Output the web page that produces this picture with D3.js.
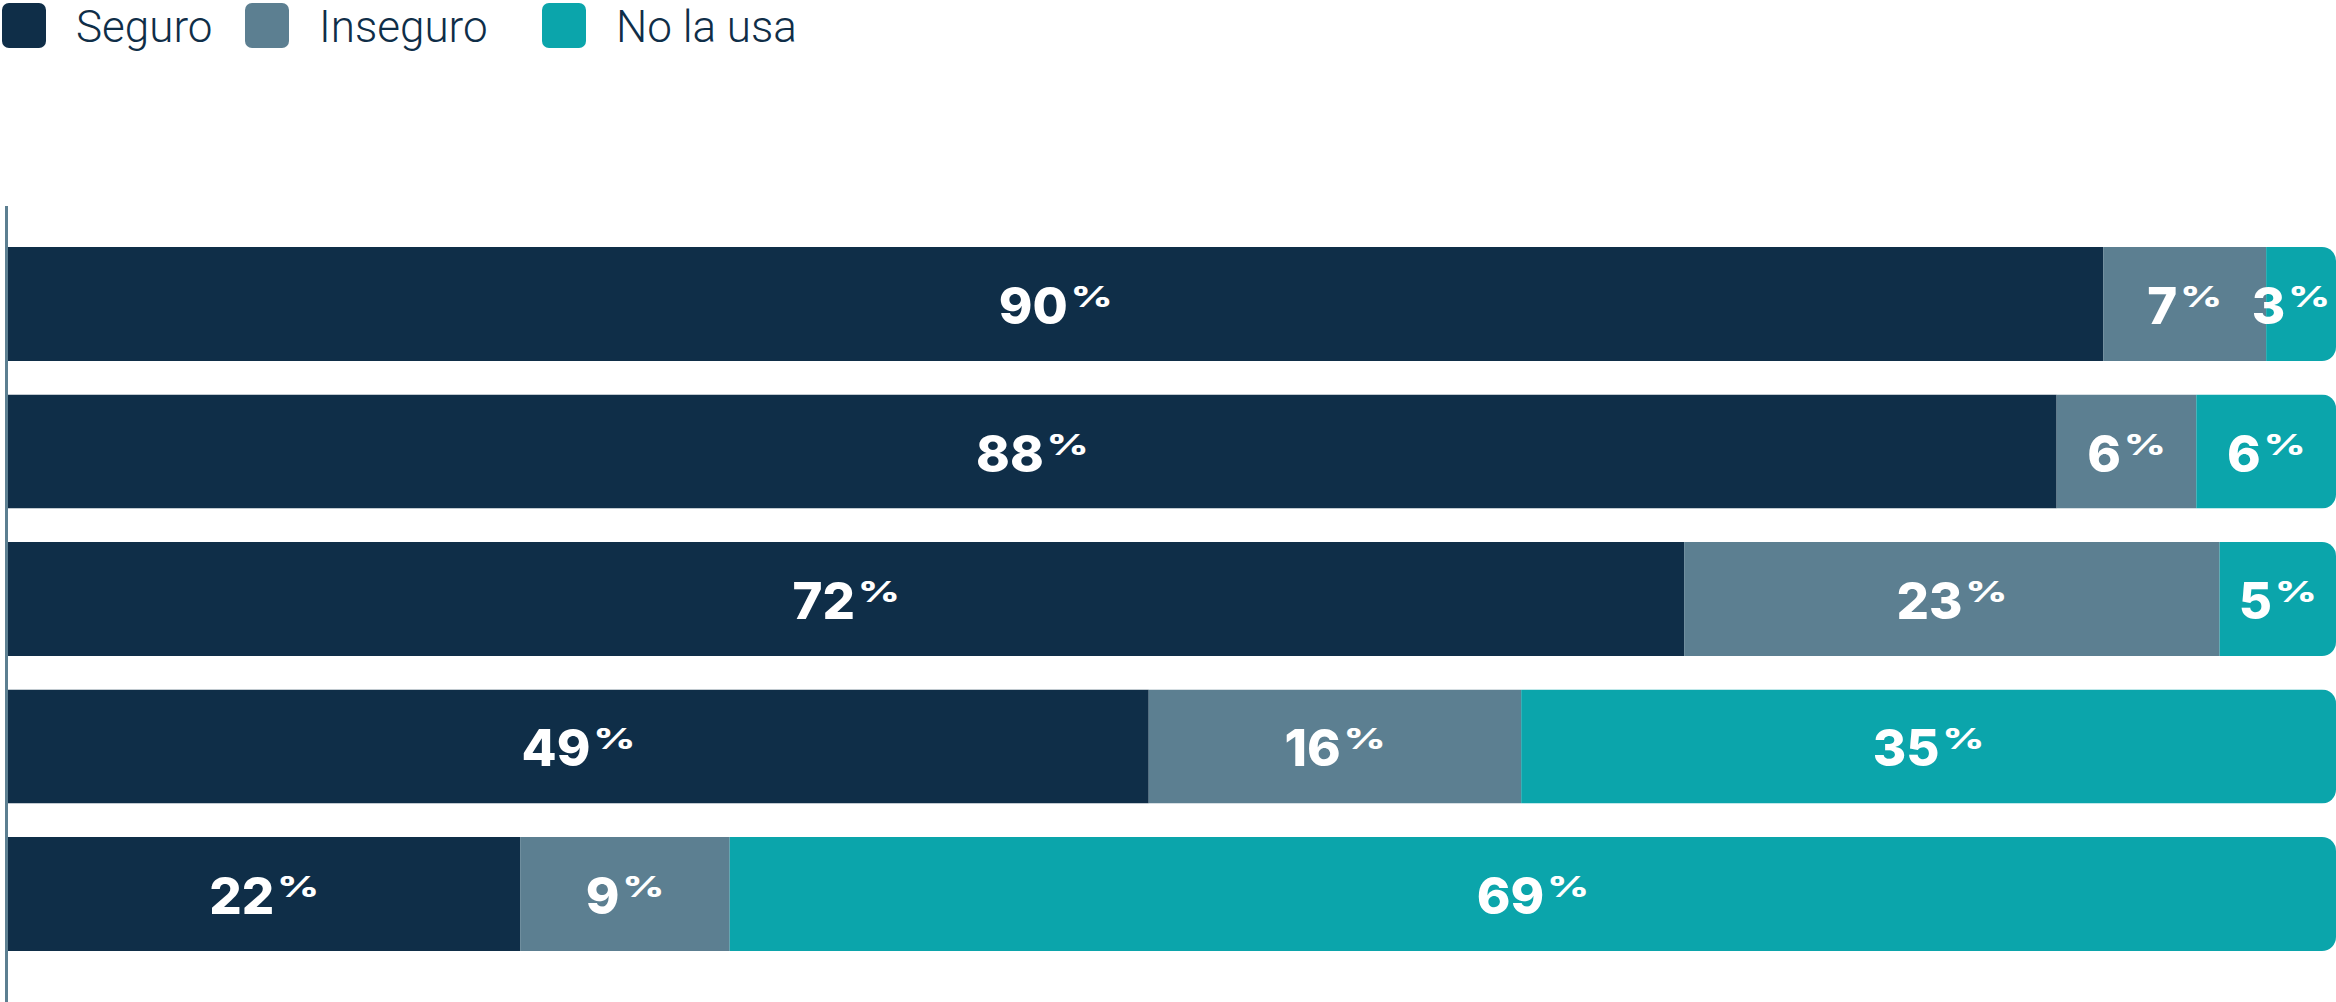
<!DOCTYPE html>
<html>
<head>
<meta charset="utf-8">
<script src="https://cdn.jsdelivr.net/npm/d3@7"></script>
<style>
  html, body { margin: 0; padding: 0; background: #ffffff; overflow: hidden; }
  svg { display: block; }
</style>
</head>
<body>
<svg id="chart" width="2336" height="1002"></svg>
<script>
// Rows of the stacked bar chart (top to bottom)
const rows = ["r1", "r2", "r3", "r4", "r5"];
// Series names as shown in the legend
const seriesNames = ["Seguro", "Inseguro", "No la usa"];
// Percentages per series, one value per row
const seguro   = [90, 88, 72, 49, 22];
const inseguro = [7, 6, 23, 16, 9];
const noLaUsa  = [3, 6, 5, 35, 69];

const colors = ["#0f2e48", "#5c7f91", "#0ba5ab"];

const W = 2336, H = 1002;
const svg = d3.select("#chart");

const table = rows.map((r, i) => ({ row: r, Seguro: seguro[i], Inseguro: inseguro[i], "No la usa": noLaUsa[i] }));
const stacked = d3.stack().keys(seriesNames)(table);

const x = d3.scaleLinear().domain([0, 100]).range([8, W]);
const y = d3.scaleBand().domain(rows).range([247, 951]).paddingInner(0.227).paddingOuter(0);
const color = d3.scaleOrdinal().domain(seriesNames).range(colors);

// Clip each row so only the right end is rounded
const defs = svg.append("defs");
const radius = 14;
rows.forEach((r, i) => {
  const cp = defs.append("clipPath").attr("id", "clip-" + i);
  cp.append("rect")
    .attr("x", x(0)).attr("y", y(r))
    .attr("width", x(100) - x(0)).attr("height", y.bandwidth())
    .attr("rx", radius).attr("ry", radius);
  cp.append("rect")
    .attr("x", x(0)).attr("y", y(r))
    .attr("width", (x(100) - x(0)) / 2).attr("height", y.bandwidth());
});

const rowG = svg.append("g").selectAll("g")
  .data(rows)
  .join("g")
  .attr("clip-path", (d, i) => `url(#clip-${i})`);

rowG.each(function (r, i) {
  const g = d3.select(this);
  stacked.forEach(layer => {
    const seg = layer[i];
    g.append("rect")
      .attr("x", x(seg[0]))
      .attr("y", y(r))
      .attr("width", x(seg[1]) - x(seg[0]))
      .attr("height", y.bandwidth())
      .attr("fill", color(layer.key));
  });
});

// Value labels: bold number followed by a wide raised percent sign
const labels = svg.append("g")
  .attr("font-family", "Inter, 'DejaVu Sans', sans-serif")
  .attr("font-weight", 800)
  .attr("fill", "#ffffff");

const pctScaleX = 1.45, pctGap = 3;
stacked.forEach(layer => {
  layer.forEach((seg, i) => {
    const v = seg[1] - seg[0];
    const cx = (x(seg[0]) + x(seg[1])) / 2;
    const base = y(rows[i]) + y.bandwidth() / 2 + 20;
    const g = labels.append("g");
    const num = g.append("text")
      .attr("font-size", 51)
      .attr("y", base)
      .text(v);
    const pct = g.append("text")
      .attr("font-size", 28)
      .text("%");
    const wNum = num.node().getComputedTextLength();
    const wPct = pct.node().getComputedTextLength() * pctScaleX;
    const total = wNum + pctGap + wPct;
    // keep the label inside the chart's right edge
    const left = Math.min(cx - total / 2, W - 6 - total);
    num.attr("x", left);
    pct.attr("transform", `translate(${left + wNum + pctGap},${base - 17}) scale(${pctScaleX},1)`);
  });
});

// Vertical baseline axis on the left
svg.append("line")
  .attr("x1", 6.5).attr("x2", 6.5)
  .attr("y1", 206).attr("y2", H)
  .attr("stroke", "#5c7f91")
  .attr("stroke-width", 3);

// Legend
const legendX = [2, 245, 542];
const legend = svg.append("g");
seriesNames.forEach((name, i) => {
  const g = legend.append("g").attr("transform", `translate(${legendX[i]},3)`);
  g.append("rect")
    .attr("width", 44).attr("height", 45)
    .attr("rx", 7).attr("ry", 7)
    .attr("fill", colors[i]);
  g.append("text")
    .attr("x", 74).attr("y", 39)
    .attr("font-family", "Roboto, 'Open Sans', sans-serif")
    .attr("font-weight", 300)
    .attr("font-size", 44)
    .attr("fill", "#0f2e48")
    .text(name);
});
</script>
</body>
</html>
